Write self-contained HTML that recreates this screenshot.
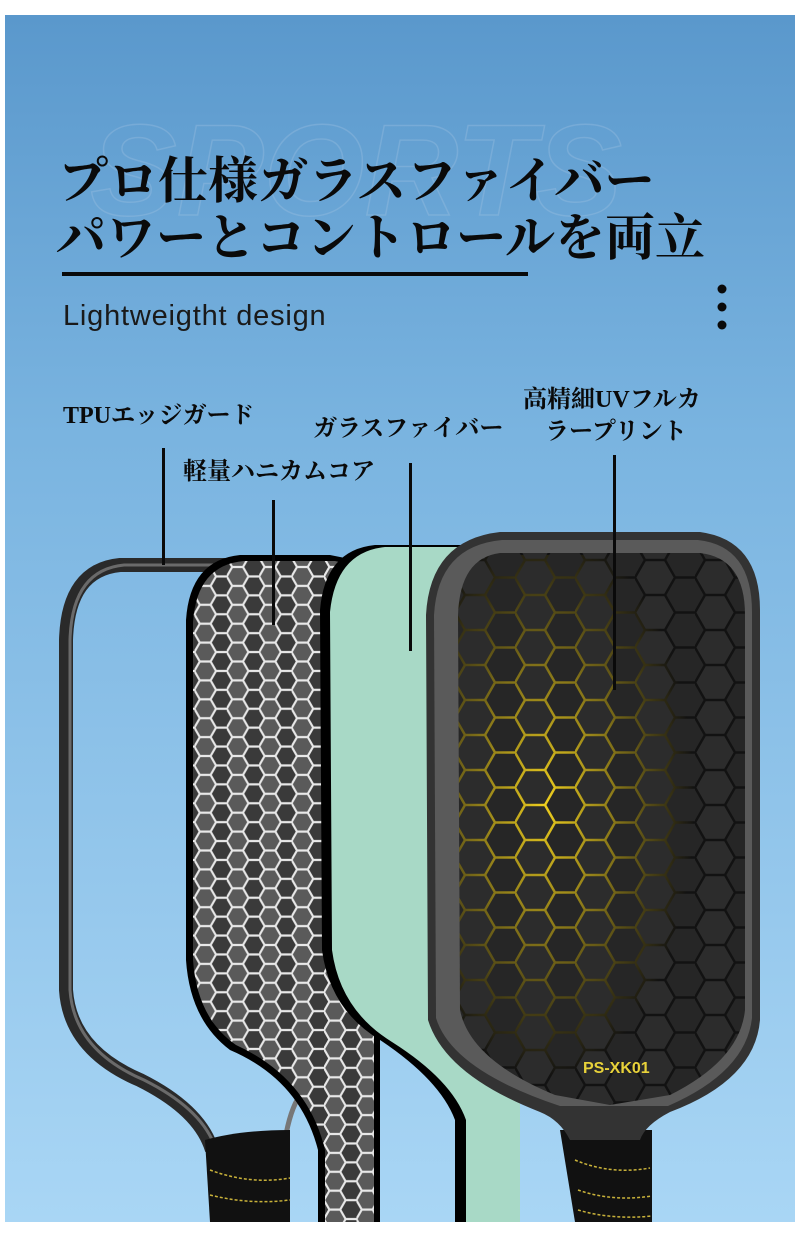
<!DOCTYPE html>
<html><head><meta charset="utf-8"><style>
html,body{margin:0;padding:0;background:#fff;}
svg{display:block}
</style></head><body>
<svg width="800" height="1238" viewBox="0 0 800 1238" xmlns="http://www.w3.org/2000/svg">
<defs>
<linearGradient id="bg" x1="0" y1="0" x2="0" y2="1">
<stop offset="0" stop-color="#5a98cc"/><stop offset="0.35" stop-color="#7ab4e0"/><stop offset="1" stop-color="#a9d6f5"/>
</linearGradient>
<pattern id="hexw" width="24" height="14" patternUnits="userSpaceOnUse" patternTransform="scale(1.35)">
<rect width="24" height="14" fill="#3a3a3a"/>
<path d="M0 7 L4 0 L12 0 L16 7 L12 14 L4 14 Z M16 7 L24 7" fill="#5a5a5a" stroke="#e8e8e8" stroke-width="1.6"/>
</pattern>
<pattern id="hexd" width="60" height="35" patternUnits="userSpaceOnUse" patternTransform="translate(455 560)">
<rect width="60" height="35" fill="#262626"/>
<path d="M0 17.5 L10 0 L30 0 L40 17.5 L30 35 L10 35 Z M40 17.5 L60 17.5" fill="#2c2c2c" stroke="#121212" stroke-width="2.5"/>
</pattern>
<pattern id="hexy" width="60" height="35" patternUnits="userSpaceOnUse" patternTransform="translate(455 560)">
<path d="M0 17.5 L10 0 L30 0 L40 17.5 L30 35 L10 35 Z M40 17.5 L60 17.5" fill="none" stroke="#f0d020" stroke-width="2.5"/>
</pattern>
<radialGradient id="glow" cx="0.3" cy="0.45" r="0.5">
<stop offset="0" stop-color="#fff"/><stop offset="0.5" stop-color="#fff" stop-opacity="0.5"/><stop offset="1" stop-color="#fff" stop-opacity="0"/>
</radialGradient>
<mask id="ym"><rect x="455" y="555" width="300" height="550" fill="url(#glow)"/></mask>
<clipPath id="face"><path d="M500 553 L700 553 Q745 558 745 615 L745 1010 Q740 1060 670 1095 L610 1105 L555 1095 Q470 1060 460 1010 L458 615 Q460 558 500 553 Z"/></clipPath>
</defs>
<rect x="5" y="15" width="790" height="1207" fill="url(#bg)"/>

<!-- watermark -->
<text x="90" y="215" font-family="Liberation Sans, sans-serif" font-size="130" font-weight="bold" font-style="italic" fill="none" stroke="#a8c8e6" stroke-opacity="0.3" stroke-width="1.5">SPORTS</text>

<!-- title -->
<g font-family="'Liberation Serif','Noto Serif CJK SC',serif" font-weight="bold" fill="#0a0a0a">
<text x="58" y="198" font-size="50">プロ仕様ガラスファイバー</text>
<text x="56" y="255" font-size="50">パワーとコントロールを両立</text>
</g>
<rect x="62" y="272" width="466" height="4" fill="#0a0a0a"/>
<text x="63" y="325" font-family="'Liberation Sans',sans-serif" font-size="29" letter-spacing="0.8" fill="#1a1a1a">Lightweigtht design</text>
<circle cx="722" cy="289" r="4.5" fill="#0a0a0a"/><circle cx="722" cy="307" r="4.5" fill="#0a0a0a"/><circle cx="722" cy="325" r="4.5" fill="#0a0a0a"/>

<!-- TPU frame -->
<path d="M245 565 L120 565 Q68 570 66 640 L66 990 Q70 1050 140 1080 Q200 1110 212 1150" fill="none" stroke="#2a2a2a" stroke-width="14"/>
<path d="M245 565 L120 565 Q68 570 66 640 L66 990 Q70 1050 140 1080 Q200 1110 212 1150" fill="none" stroke="#6a6a6a" stroke-width="3" transform="translate(4 0)"/>
<path d="M300 1095 Q290 1110 285 1140" fill="none" stroke="#777" stroke-width="5"/>
<path d="M205 1140 Q240 1130 290 1130 L290 1222 L210 1222 Z" fill="#111"/>
<path d="M210 1170 Q250 1185 290 1178 M210 1195 Q250 1205 290 1200" stroke="#c9b23a" stroke-width="1.5" stroke-dasharray="3 2" fill="none"/>

<!-- honeycomb -->
<path d="M240 555 L330 555 L380 565 L380 1222 L318 1222 L318 1150 Q300 1080 230 1050 Q190 1020 186 960 L186 620 Q190 560 240 555 Z" fill="#000"/>
<path d="M244 561 L335 561 L374 570 L374 1222 L325 1222 L325 1150 Q308 1078 236 1045 Q197 1018 193 960 L193 622 Q197 565 244 561 Z" fill="url(#hexw)"/>

<!-- glass fiber -->
<path d="M375 545 L480 545 L520 560 L520 1222 L455 1222 L455 1120 Q440 1080 380 1040 Q330 1010 322 950 L320 610 Q325 550 375 545 Z" fill="#000"/>
<path d="M385 547 L485 547 L520 560 L520 1222 L466 1222 L466 1120 Q452 1080 392 1042 Q340 1010 332 950 L330 612 Q336 552 385 547 Z" fill="#a8d9c6"/>

<!-- front paddle -->
<path d="M560 1130 L652 1130 L652 1222 L575 1222 Z" fill="#111"/>
<path d="M575 1160 Q610 1175 650 1168 M578 1190 Q612 1202 652 1196 M578 1210 Q612 1220 652 1216" stroke="#c9b23a" stroke-width="1.5" stroke-dasharray="3 2" fill="none"/>
<path d="M500 532 L700 532 Q760 540 760 610 L760 1020 Q755 1080 670 1112 Q645 1125 640 1140 L570 1140 Q560 1120 540 1112 Q445 1075 428 1020 L426 615 Q430 540 500 532 Z" fill="#333"/>
<path d="M502 540 L698 540 Q752 546 752 612 L752 1018 Q746 1072 668 1106 L560 1106 Q452 1070 436 1018 L434 615 Q438 546 502 540 Z" fill="#5a5a5a"/>
<g clip-path="url(#face)">
<rect x="455" y="550" width="300" height="560" fill="url(#hexd)"/>
<rect x="455" y="550" width="300" height="560" fill="url(#hexy)" mask="url(#ym)"/>
</g>
<text x="583" y="1073" font-family="'Liberation Sans',sans-serif" font-weight="bold" font-size="16" fill="#e8d23a">PS-XK01</text>

<!-- labels -->
<g font-family="'Liberation Serif','Noto Serif CJK SC',serif" font-weight="bold" font-size="24" fill="#0a0a0a">
<text x="63" y="423">TPUエッジガード</text>
<text x="183" y="479">軽量ハニカムコア</text>
<text x="313" y="436">ガラスファイバー</text>
<text x="523" y="407">高精細UVフルカ</text>
<text x="545" y="439">ラープリント</text>
</g>
<g fill="#0a0a0a">
<rect x="162" y="448" width="3" height="117"/>
<rect x="272" y="500" width="3" height="125"/>
<rect x="409" y="463" width="3" height="188"/>
<rect x="613" y="455" width="3" height="235"/>
</g>
</svg>
</body></html>
